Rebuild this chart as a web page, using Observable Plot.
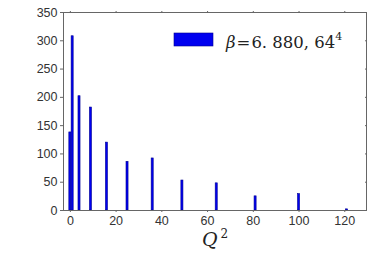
<!DOCTYPE html>
<html>
<head>
<meta charset="utf-8">
<script src="https://cdn.jsdelivr.net/npm/d3@7"></script>
<script src="https://cdn.jsdelivr.net/npm/@observablehq/plot@0.6"></script>
<style>
  html, body { margin: 0; padding: 0; background: #fff; }
</style>
</head>
<body>
<div id="chart"></div>
<script>
const q2Values = [0, 1, 4, 9, 16, 25, 36, 49, 64, 81, 100, 121];
const counts   = [138, 308, 202, 182, 120, 86, 92, 53, 48, 25, 29, 2];
const xTicks = [0, 20, 40, 60, 80, 100, 120];
const yTicks = [0, 50, 100, 150, 200, 250, 300, 350];

const data = q2Values.map((q, i) => ({q, count: counts[i]}));
const frameColor = "#666";
const tickColor = "#333";

const chart = Plot.plot({
  width: 374,
  height: 257,
  marginLeft: 63,
  marginRight: 8,
  marginTop: 12,
  marginBottom: 47,
  style: {fontFamily: "'Liberation Sans', Arial, sans-serif", fontSize: "12.5px", color: tickColor, background: "#fff"},
  x: {domain: [-3, 129.5]},
  y: {domain: [0, 350]},
  marks: [
    Plot.rectY(data, {x1: d => d.q - 0.45, x2: d => d.q + 0.45, y1: 0, y2: "count", fill: "#0000f0", stroke: "#000090", strokeWidth: 0.6}),
    Plot.frame({stroke: frameColor}),
    Plot.axisX({ticks: xTicks, tickSize: 2, tickPadding: 4, label: null, stroke: frameColor, color: tickColor}),
    Plot.axisX({anchor: "top", ticks: xTicks, tickSize: 2, tickFormat: () => "", label: null, stroke: frameColor}),
    Plot.axisY({ticks: yTicks, tickSize: 3, tickPadding: 3, label: null, stroke: frameColor, color: tickColor}),
    Plot.axisY({anchor: "right", ticks: yTicks, tickSize: -2, tickFormat: () => "", label: null, stroke: frameColor})
  ]
});

const svg = d3.select(chart);
// legend
svg.append("rect").attr("x", 174).attr("y", 33).attr("width", 39).attr("height", 13)
  .attr("fill", "#0000f0").attr("stroke", "#000090").attr("stroke-width", 0.6);
const lt = svg.append("text").attr("x", 226).attr("y", 47.5).attr("text-anchor", "start")
  .attr("font-family", "'DejaVu Serif', 'Liberation Serif', serif").attr("font-size", 16.5).attr("fill", "#222");
lt.append("tspan").attr("font-style", "italic").text("β");
lt.append("tspan").attr("dx", 1).text("=");
lt.append("tspan").attr("dx", 1).text("6. 880, 64");
lt.append("tspan").attr("font-size", 11).attr("dy", -7.5).text("4");
// x label
const xl = svg.append("text").attr("x", 202).attr("y", 246).attr("text-anchor", "start")
  .attr("font-family", "'DejaVu Serif', 'Liberation Serif', serif").attr("font-size", 19).attr("fill", "#222");
xl.append("tspan").attr("font-style", "italic").text("Q");
xl.append("tspan").attr("font-size", 12).attr("dx", 3).attr("dy", -8).text("2");

document.getElementById("chart").appendChild(chart);
</script>
</body>
</html>
